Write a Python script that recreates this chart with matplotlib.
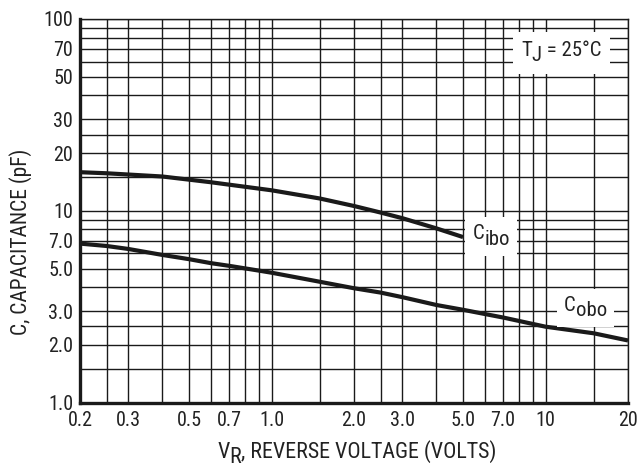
import matplotlib
matplotlib.use("Agg")
import matplotlib.pyplot as plt
from matplotlib import font_manager as fm
from matplotlib.ticker import FixedLocator, NullFormatter
from matplotlib.offsetbox import TextArea, HPacker, VPacker, DrawingArea, AnnotationBbox

# ---------- pick a narrow sans face if one is installed ----------
def pick_font():
    entries = fm.fontManager.ttflist
    names = {f.name for f in entries}
    if 'Liberation Sans Narrow' in names:
        return 'Liberation Sans Narrow', 'normal', True
    for fam in ['Noto Sans', 'Open Sans', 'Roboto', 'Arimo']:
        for f in entries:
            st = str(f.stretch).lower()
            if (f.name.startswith(fam) and f.style == 'normal'
                    and f.weight in (400, 'normal', 'regular')
                    and ('condensed' in st and 'extra' not in st and 'ultra' not in st
                         or 'Condensed' in f.name and 'Extra' not in f.name)):
                return f.name, f.stretch, True
    return 'Liberation Sans', 'normal', False

FONT, STRETCH, NARROW = pick_font()
plt.rcParams['font.family'] = [FONT, 'Liberation Sans', 'DejaVu Sans']
plt.rcParams['font.stretch'] = STRETCH
S = 1.15 if NARROW else 1.0
TXT = '#222222'

# ---------- data ----------
vr_cibo = [0.2, 0.25, 0.4, 0.6, 1.0, 1.5, 2.0, 2.5, 3.0, 4.0, 5.0]
c_ibo = [15.9, 15.7, 15.1, 14.1, 12.8, 11.6, 10.6, 9.8, 9.16, 8.1, 7.3]

vr_cobo = [0.2, 0.25, 0.3, 0.4, 0.5, 0.6, 0.7, 0.9, 1.0, 1.5, 2.0, 2.5, 3.0, 4.0, 5.0, 6.0, 7.0, 10, 15, 20]
c_obo = [6.75, 6.56, 6.33, 5.89, 5.6, 5.34, 5.17, 4.88, 4.76, 4.27, 3.95, 3.75, 3.55, 3.23, 3.05, 2.9, 2.78, 2.49, 2.3, 2.11]

x_ticks = [0.2, 0.3, 0.5, 0.7, 1.0, 2.0, 3.0, 5.0, 7.0, 10, 20]
x_tick_labels = ['0.2', '0.3', '0.5', '0.7', '1.0', '2.0', '3.0', '5.0', '7.0', '10', '20']
x_grid = [0.25, 0.4, 0.6, 0.8, 0.9, 1.5, 2.5, 4, 6, 8, 9, 15]

y_ticks = [1.0, 2.0, 3.0, 5.0, 7.0, 10, 20, 30, 50, 70, 100]
y_tick_labels = ['1.0', '2.0', '3.0', '5.0', '7.0', '10', '20', '30', '50', '70', '100']
y_grid = [1.5, 2.5, 4, 6, 8, 9, 15, 25, 40, 60, 80, 90]

fig = plt.figure(figsize=(6.39, 4.70), dpi=100)
ax = fig.add_axes([80/639, 1 - 402.7/470, (628-80)/639, (402.7-19)/470])
ax.set_xscale('log')
ax.set_yscale('log')
ax.set_xlim(0.2, 20)
ax.set_ylim(1.0, 100)

ax.xaxis.set_major_locator(FixedLocator(x_ticks))
ax.set_xticklabels(x_tick_labels)
ax.xaxis.set_minor_locator(FixedLocator(x_grid))
ax.xaxis.set_minor_formatter(NullFormatter())
ax.yaxis.set_major_locator(FixedLocator(y_ticks))
ax.set_yticklabels(y_tick_labels)
ax.yaxis.set_minor_locator(FixedLocator(y_grid))
ax.yaxis.set_minor_formatter(NullFormatter())

ax.tick_params(which='both', length=0, labelsize=12.5 * S, colors=TXT)
ax.tick_params(axis='x', pad=6)
ax.tick_params(axis='y', pad=5)
ax.grid(which='both', color='#1a1a1a', linewidth=1.0)
ax.set_axisbelow(True)

for side in ['left', 'bottom']:
    ax.spines[side].set_linewidth(2.4)
    ax.spines[side].set_color('#1a1a1a')
for side in ['top', 'right']:
    ax.spines[side].set_linewidth(1.0)
    ax.spines[side].set_color('#1a1a1a')

ax.plot(vr_cibo, c_ibo, color='#1a1a1a', linewidth=3.0, solid_capstyle='butt', zorder=3)
ax.plot(vr_cobo, c_obo, color='#1a1a1a', linewidth=3.0, solid_capstyle='butt', zorder=3)


def sub_box(main, sub, rest, fontsize, drop):
    tp = dict(fontsize=fontsize, color=TXT)
    kids = [VPacker(children=[TextArea(main, textprops=tp), DrawingArea(1, drop)], pad=0, sep=0),
            TextArea(sub, textprops=tp)]
    if rest:
        kids.append(VPacker(children=[TextArea(rest, textprops=tp), DrawingArea(1, drop)], pad=0, sep=0))
    return HPacker(children=kids, align='bottom', pad=0, sep=0)


white = dict(facecolor='white', edgecolor='none')
ab = AnnotationBbox(sub_box('C', 'ibo', '', 13 * S, 4), (6.33, 7.35), xycoords='data',
                    frameon=True, bboxprops=white, pad=0.55, zorder=4)
ax.add_artist(ab)
ab = AnnotationBbox(sub_box('C', 'obo', '', 13 * S, 4), (14.0, 3.12), xycoords='data',
                    frameon=True, bboxprops=white, pad=0.5, zorder=4)
ax.add_artist(ab)
ab = AnnotationBbox(sub_box('T', 'J', ' = 25°C', 13 * S, 4), (11.4, 66.5), xycoords='data',
                    frameon=True, bboxprops=white, pad=0.6, zorder=4)
ax.add_artist(ab)

ab = AnnotationBbox(sub_box('V', 'R', ', REVERSE VOLTAGE (VOLTS)', 13.8 * S, 3.5), (357, 16),
                    xycoords='figure pixels', frameon=False, pad=0)
fig.add_artist(ab)

fig.text(21/639, 1 - 242/470, 'C, CAPACITANCE (pF)', rotation=90, ha='center', va='center',
         fontsize=15.5, color=TXT)

fig.savefig('out.png', dpi=100)
